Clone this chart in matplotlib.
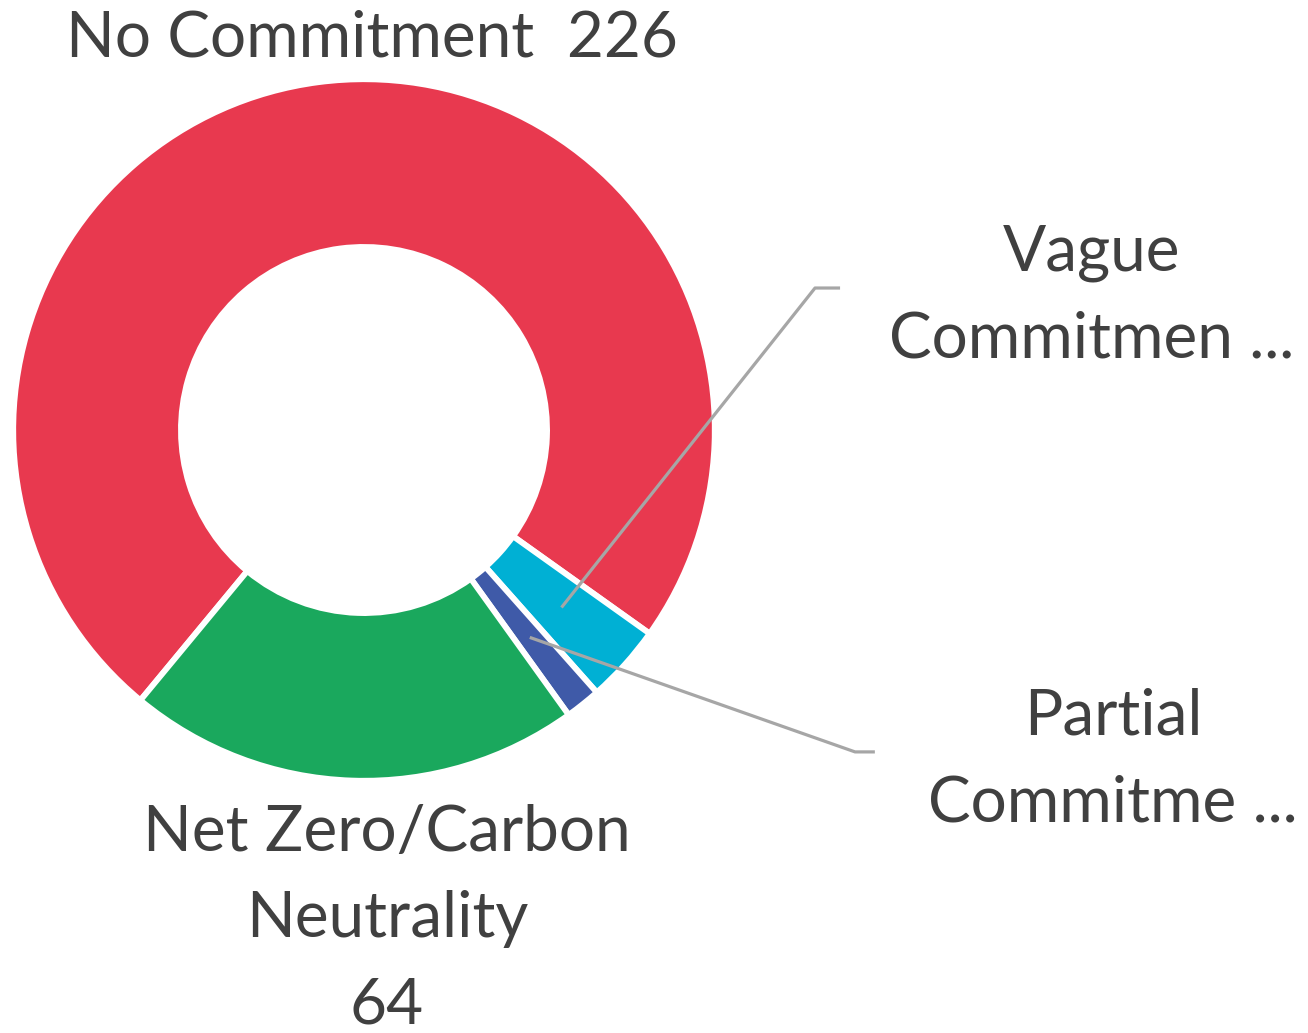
import numpy as np
import matplotlib
matplotlib.use("Agg")
import matplotlib.pyplot as plt

# data
categories = ["No Commitment", "Vague Commitment", "Partial Commitment",
              "Net Zero/Carbon Neutrality"]
counts = [226, 11, 5, 64]
colors = ["#E8394F", "#00B0D4", "#3F5AA8", "#1AA85D"]
label_texts = ["No Commitment  226", "Vague\nCommitmen ...",
               "Partial\nCommitme ...", "Net Zero/Carbon\nNeutrality\n64"]

W, H = 1308, 1033
cx, cy, R = 364, 430, 348  # pixel centre / radius of the ring

plt.rcParams["font.family"] = ["Lato", "DejaVu Sans"]
fig = plt.figure(figsize=(W / 100, H / 100), dpi=100)
ax = fig.add_axes([0, 0, 1, 1])

start = 230.4
wedges, _ = ax.pie(counts, colors=colors, startangle=start, counterclock=False,
                   radius=1.008,
                   wedgeprops=dict(width=0.482, edgecolor="white", linewidth=4.2))
ax.set_aspect("auto")
ax.set_xlim(-cx / R, (W - cx) / R)
ax.set_ylim(-(H - cy) / R, cy / R)
ax.axis("off")

txt = "#404040"
fs = 46
ls = 1.6
ax.text(0.023, 1.126, label_texts[0], ha="center", va="center",
        fontsize=fs, color=txt)
ax.text(0.066, -1.405, label_texts[3], ha="center", va="center",
        fontsize=fs, color=txt, linespacing=ls)

# outside labels with leader lines for the two small slices
side = [(1, (2.092, 0.384), (1.296, 0.408), (1.368, 0.408)),
        (2, (2.152, -0.948), (1.411, -0.925), (1.468, -0.925))]
for i, pos, elbow, end in side:
    w = wedges[i]
    mid = np.deg2rad((w.theta1 + w.theta2) / 2)
    r0 = 0.763
    x0, y0 = r0 * np.cos(mid), r0 * np.sin(mid)
    ax.plot([x0, elbow[0], end[0]], [y0, elbow[1], end[1]],
            color="#A6A6A6", lw=2.3, solid_capstyle="butt")
    ax.text(pos[0], pos[1], label_texts[i], ha="center", va="center",
            fontsize=fs, color=txt, linespacing=ls)

fig.savefig("out.png", dpi=100)
